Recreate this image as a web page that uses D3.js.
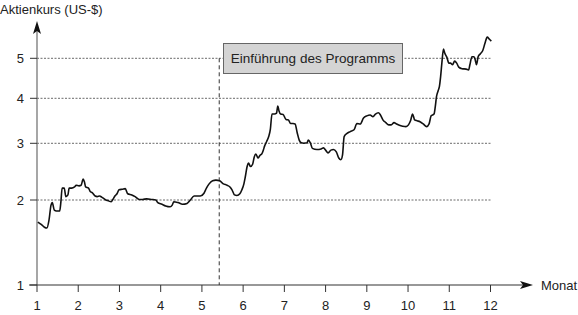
<!DOCTYPE html>
<html>
<head>
<meta charset="utf-8">
<script src="https://cdn.jsdelivr.net/npm/d3@7"></script>
<style>
    body { margin: 0; background: #fff; }
    text { font-family: "Liberation Sans", Arial, sans-serif; fill: #222; }
</style>
</head>
<body>
<div id="chart"></div>
<script>
//month (1 = start of month 1) and share price in US-$
let months = [1.02, 1.11, 1.18, 1.24, 1.29, 1.34, 1.37, 1.42, 1.47, 1.55, 1.58, 1.61, 1.66, 1.70, 1.75, 1.78, 1.84, 1.91, 1.95, 2.02,
    2.07, 2.12, 2.15, 2.18, 2.25, 2.29, 2.34, 2.41, 2.46, 2.52, 2.57, 2.65, 2.73, 2.80, 2.84, 2.89, 2.94, 2.99, 3.07, 3.14,
    3.20, 3.30, 3.38, 3.48, 3.56, 3.66, 3.78, 3.88, 3.93, 4.03, 4.12, 4.23, 4.28, 4.32, 4.42, 4.53, 4.64, 4.72, 4.81, 4.87,
    4.96, 5.05, 5.11, 5.17, 5.26, 5.34, 5.43, 5.51, 5.61, 5.68, 5.73, 5.79, 5.85, 5.92, 5.97, 6.02, 6.05, 6.10, 6.13, 6.18,
    6.23, 6.27, 6.31, 6.36, 6.41, 6.45, 6.49, 6.52, 6.57, 6.62, 6.66, 6.70, 6.76, 6.81, 6.84, 6.87, 6.91, 6.97, 7.04, 7.10,
    7.15, 7.21, 7.26, 7.31, 7.36, 7.41, 7.47, 7.55, 7.58, 7.63, 7.68, 7.79, 7.89, 7.95, 8.00, 8.06, 8.13, 8.19, 8.26, 8.32,
    8.37, 8.41, 8.45, 8.52, 8.60, 8.69, 8.76, 8.84, 8.92, 9.00, 9.08, 9.15, 9.21, 9.28, 9.33, 9.39, 9.46, 9.53, 9.59, 9.66,
    9.72, 9.79, 9.87, 9.95, 10.01, 10.06, 10.11, 10.16, 10.22, 10.29, 10.37, 10.45, 10.51, 10.56, 10.63, 10.66, 10.69, 10.73, 10.76, 10.79,
    10.82, 10.86, 10.89, 10.94, 10.99, 11.03, 11.08, 11.13, 11.18, 11.23, 11.31, 11.41, 11.47, 11.50, 11.55, 11.60, 11.63, 11.66, 11.70, 11.75,
    11.81, 11.87, 11.92, 11.97, 12.02];
let prices = [1.74, 1.71, 1.68, 1.67, 1.76, 1.94, 1.97, 1.88, 1.87, 1.87, 1.98, 2.21, 2.21, 2.06, 2.09, 2.21, 2.21, 2.23, 2.26, 2.25,
    2.26, 2.37, 2.32, 2.23, 2.21, 2.15, 2.13, 2.07, 2.06, 2.07, 2.05, 2.01, 1.99, 1.98, 2.01, 2.07, 2.11, 2.18, 2.19, 2.20,
    2.11, 2.09, 2.06, 2.01, 2.01, 2.02, 2.01, 2.00, 1.97, 1.95, 1.93, 1.92, 1.94, 1.98, 1.97, 1.95, 1.96, 2.00, 2.07, 2.07,
    2.07, 2.12, 2.21, 2.28, 2.34, 2.35, 2.34, 2.29, 2.26, 2.23, 2.18, 2.09, 2.08, 2.11, 2.18, 2.29, 2.40, 2.60, 2.65, 2.59,
    2.63, 2.76, 2.81, 2.74, 2.79, 2.81, 2.88, 2.95, 3.04, 3.15, 3.31, 3.65, 3.65, 3.67, 3.83, 3.72, 3.65, 3.64, 3.53, 3.52,
    3.44, 3.44, 3.43, 3.24, 3.07, 3.01, 3.00, 3.01, 3.07, 3.01, 2.91, 2.89, 2.90, 2.92, 2.88, 2.83, 2.88, 2.89, 2.85, 2.74,
    2.71, 2.79, 3.15, 3.22, 3.26, 3.30, 3.44, 3.43, 3.56, 3.61, 3.63, 3.59, 3.65, 3.68, 3.63, 3.52, 3.46, 3.41, 3.41, 3.46,
    3.43, 3.40, 3.38, 3.37, 3.41, 3.50, 3.65, 3.52, 3.50, 3.48, 3.43, 3.37, 3.43, 3.61, 3.65, 3.81, 4.04, 4.19, 4.29, 4.54,
    4.88, 5.23, 5.13, 5.03, 4.88, 4.88, 4.84, 4.93, 4.88, 4.78, 4.74, 4.73, 4.71, 4.84, 5.04, 5.04, 4.96, 4.84, 5.04, 5.11,
    5.19, 5.39, 5.53, 5.48, 5.43];

let xTicks = [1, 2, 3, 4, 5, 6, 7, 8, 9, 10, 11, 12];
let yTicks = [1, 2, 3, 4, 5];
let gridValues = [2, 3, 4, 5];
let programStart = 5.42;
let boxLabel = "Einführung des Programms";

let width = 578, height = 315;

let svg = d3.select("#chart")
    .append("svg")
    .attr("width", width)
    .attr("height", height);

//x axis: months
let x = d3.scaleLinear()
    .domain([1, 12])
    .range([37, 490.5]);

//y axis: price scale is compressed towards the top, mapped piecewise
let y = d3.scaleLinear()
    .domain([1, 2, 3, 4, 5])
    .range([285, 200, 143.3, 98.3, 58.3]);

//dotted grid lines
svg.selectAll("gridLines")
    .data(gridValues)
    .enter()
    .append("line")
    .attr("x1", x(1))
    .attr("x2", x(12))
    .attr("y1", function(d){ return y(d) })
    .attr("y2", function(d){ return y(d) })
    .style("stroke", "#444")
    .style("stroke-width", 0.8)
    .style("stroke-dasharray", "2,1.5");

//vertical dashed marker for the start of the programme
svg.append("line")
    .attr("x1", x(programStart))
    .attr("x2", x(programStart))
    .attr("y1", y(5))
    .attr("y2", y(1))
    .style("stroke", "#333")
    .style("stroke-width", 1)
    .style("stroke-dasharray", "4,3");

//axis lines with arrow heads
svg.append("line")
    .attr("x1", x(1)).attr("x2", x(1))
    .attr("y1", y(1)).attr("y2", 28)
    .style("stroke", "#777")
    .style("stroke-width", 1.3);
svg.append("path")
    .attr("d", d3.line()([[x(1), 21], [x(1) - 4, 34], [x(1), 31], [x(1) + 4, 34]]) + "Z")
    .style("fill", "#111");

svg.append("line")
    .attr("x1", 29).attr("x2", 526)
    .attr("y1", y(1)).attr("y2", y(1))
    .style("stroke", "#333")
    .style("stroke-width", 1.1);
svg.append("path")
    .attr("d", d3.line()([[533, y(1)], [520, y(1) - 4], [523, y(1)], [520, y(1) + 4]]) + "Z")
    .style("fill", "#111");

//y ticks and labels
let yAxis = svg.append("g");
yAxis.selectAll("yTicks")
    .data(yTicks)
    .enter()
    .append("line")
    .attr("x1", 30).attr("x2", x(1))
    .attr("y1", function(d){ return y(d) })
    .attr("y2", function(d){ return y(d) })
    .style("stroke", "#333");
yAxis.selectAll("yLabels")
    .data(yTicks)
    .enter()
    .append("text")
    .attr("x", 24)
    .attr("y", function(d){ return y(d) })
    .attr("dy", "0.36em")
    .attr("text-anchor", "end")
    .style("font-size", "13px")
    .text(function(d){ return d });

//x ticks and labels
let xAxis = svg.append("g");
xAxis.selectAll("xTicks")
    .data(xTicks)
    .enter()
    .append("line")
    .attr("x1", function(d){ return x(d) })
    .attr("x2", function(d){ return x(d) })
    .attr("y1", y(1)).attr("y2", y(1) + 7)
    .style("stroke", "#333");
xAxis.selectAll("xLabels")
    .data(xTicks)
    .enter()
    .append("text")
    .attr("x", function(d){ return x(d) })
    .attr("y", 310)
    .attr("text-anchor", "middle")
    .style("font-size", "13px")
    .text(function(d){ return d });

//axis titles
svg.append("text")
    .attr("x", 0)
    .attr("y", 14)
    .style("font-size", "13px")
    .text("Aktienkurs (US-$)");
svg.append("text")
    .attr("x", 541)
    .attr("y", y(1) + 5)
    .style("font-size", "13px")
    .text("Monat");

//price line
let line = d3.line()
    .x(function(d){ return x(d.month) })
    .y(function(d){ return y(d.price) })
    .curve(d3.curveMonotoneX);
svg.append("path")
    .datum(months.map(function(m, i){ return {month: m, price: prices[i]} }))
    .attr("d", line)
    .style("fill", "none")
    .style("stroke", "#111")
    .style("stroke-width", 1.6)
    .style("stroke-linejoin", "round");

//annotation box
svg.append("rect")
    .attr("x", 223.5)
    .attr("y", 43.5)
    .attr("width", 179)
    .attr("height", 30)
    .style("fill", "#d4d4d4")
    .style("stroke", "#666")
    .style("stroke-width", 1);
svg.append("text")
    .attr("x", 313)
    .attr("y", 58.5)
    .attr("dy", "0.36em")
    .attr("text-anchor", "middle")
    .style("font-size", "13.5px")
    .text(boxLabel);
</script>
</body>
</html>
